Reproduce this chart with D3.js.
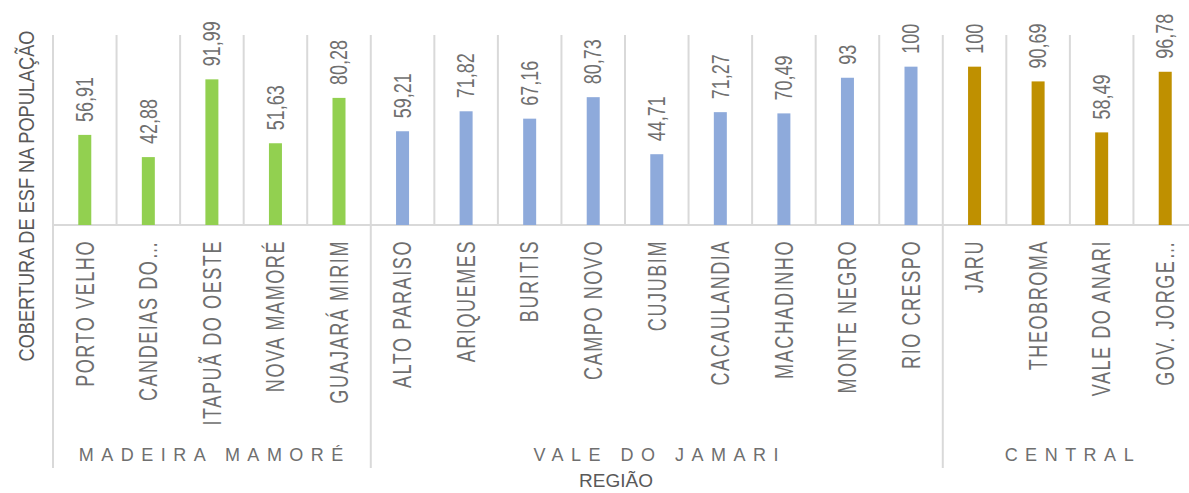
<!DOCTYPE html>
<html>
<head>
<meta charset="utf-8">
<script src="https://cdn.jsdelivr.net/npm/d3@7"></script>
<style>
  body { margin: 0; background: #fff; }
  svg { display: block; font-family: 'Liberation Sans', Arial, sans-serif; }
</style>
</head>
<body>
<div id="chart"></div>
<script>
// municipios (categorias do eixo x)
var categories = ['PORTO VELHO', 'CANDEIAS DO…', 'ITAPUÃ DO OESTE', 'NOVA MAMORÉ', 'GUAJARÁ MIRIM',
  'ALTO PARAISO', 'ARIQUEMES', 'BURITIS', 'CAMPO NOVO', 'CUJUBIM', 'CACAULANDIA', 'MACHADINHO',
  'MONTE NEGRO', 'RIO CRESPO', 'JARU', 'THEOBROMA', 'VALE DO ANARI', 'GOV. JORGE…']

// cobertura de ESF (%)
var values = [56.91, 42.88, 91.99, 51.63, 80.28,
  59.21, 71.82, 67.16, 80.73, 44.71, 71.27, 70.49, 93, 100,
  100, 90.69, 58.49, 96.78]

// regiao de cada municipio
var regionOf = ['MADEIRA MAMORÉ', 'MADEIRA MAMORÉ', 'MADEIRA MAMORÉ', 'MADEIRA MAMORÉ', 'MADEIRA MAMORÉ',
  'VALE DO JAMARI', 'VALE DO JAMARI', 'VALE DO JAMARI', 'VALE DO JAMARI', 'VALE DO JAMARI',
  'VALE DO JAMARI', 'VALE DO JAMARI', 'VALE DO JAMARI', 'VALE DO JAMARI',
  'CENTRAL', 'CENTRAL', 'CENTRAL', 'CENTRAL']

var regions = ['MADEIRA MAMORÉ', 'VALE DO JAMARI', 'CENTRAL']
var regionColors = ['#92d050', '#8eaadb', '#bf9000']

var chart = {}
chart.width = 1189
chart.height = 493
chart.left = 53
chart.right = 1197
chart.base = 225
chart.top = 35
chart.groupBottom = 468

var svg = d3.select('#chart').append('svg')
  .attr('width', chart.width)
  .attr('height', chart.height)

var x = d3.scaleBand().domain(categories).range([chart.left, chart.right]).padding(0)
var y = d3.scaleLinear().domain([0, 120]).range([chart.base, chart.top])
var color = d3.scaleOrdinal().domain(regions).range(regionColors)

var grid = '#d9d9d9'
var labelGray = '#6f6f6f'

// vertical gridlines between categories
var bounds = d3.range(categories.length + 1)
svg.append('g').selectAll('line')
  .data(bounds)
  .enter()
  .append('line')
  .attr('x1', function (i) { return chart.left + i * x.step() })
  .attr('x2', function (i) { return chart.left + i * x.step() })
  .attr('y1', y(120))
  .attr('y2', function (i) {
    var isGroupEdge = i === 0 || i === categories.length || regionOf[i] !== regionOf[i - 1]
    return isGroupEdge ? chart.groupBottom : y(0)
  })
  .attr('stroke', grid)
  .attr('stroke-width', 2)

// baseline
svg.append('line')
  .attr('x1', chart.left).attr('x2', chart.right)
  .attr('y1', y(0)).attr('y2', y(0))
  .attr('stroke', grid)
  .attr('stroke-width', 2)

// bars
var barW = 13
svg.append('g').selectAll('rect')
  .data(values)
  .enter()
  .append('rect')
  .attr('x', function (d, i) { return x(categories[i]) + x.bandwidth() / 2 - barW / 2 })
  .attr('y', function (d) { return y(d) })
  .attr('width', barW)
  .attr('height', function (d) { return y(0) - y(d) })
  .attr('fill', function (d, i) { return color(regionOf[i]) })

// value labels (rotated)
svg.append('g').selectAll('text')
  .data(values)
  .enter()
  .append('text')
  .attr('transform', function (d, i) {
    var cx = x(categories[i]) + x.bandwidth() / 2
    return 'translate(' + cx + ',' + (y(d) - 13) + ') rotate(-90) scale(1,1.3)'
  })
  .attr('dy', '0.35em')
  .attr('text-anchor', 'start')
  .attr('font-size', 18)
  .attr('fill', labelGray)
  .text(function (d) { return String(d).replace('.', ',') })

// category labels (rotated)
svg.append('g').selectAll('text')
  .data(categories)
  .enter()
  .append('text')
  .attr('transform', function (d) {
    var cx = x(d) + x.bandwidth() / 2
    return 'translate(' + cx + ',' + (chart.base + 15) + ') rotate(-90) scale(1,1.4)'
  })
  .attr('dy', '0.35em')
  .attr('text-anchor', 'end')
  .attr('font-size', 18)
  .attr('letter-spacing', 1.6)
  .attr('fill', labelGray)
  .text(function (d) { return d })

// region labels
svg.append('g').selectAll('text')
  .data(regions)
  .enter()
  .append('text')
  .attr('x', function (r) {
    var idx = categories.filter(function (c, i) { return regionOf[i] === r })
    var first = x(idx[0])
    var last = x(idx[idx.length - 1]) + x.bandwidth()
    return (first + last) / 2 + 3
  })
  .attr('y', 461)
  .attr('text-anchor', 'middle')
  .attr('font-size', 18)
  .attr('letter-spacing', 7.5)
  .attr('fill', labelGray)
  .text(function (r) { return r })

// axis titles
svg.append('text')
  .attr('transform', 'translate(26,196) rotate(-90) scale(1.01,1.2)')
  .attr('dy', '0.35em')
  .attr('text-anchor', 'middle')
  .attr('font-size', 18)
  .attr('fill', '#595959')
  .text('COBERTURA DE ESF NA POPULAÇÃO')

svg.append('text')
  .attr('x', 616)
  .attr('y', 487)
  .attr('text-anchor', 'middle')
  .attr('font-size', 19)
  .attr('fill', '#595959')
  .text('REGIÃO')
</script>
</body>
</html>
